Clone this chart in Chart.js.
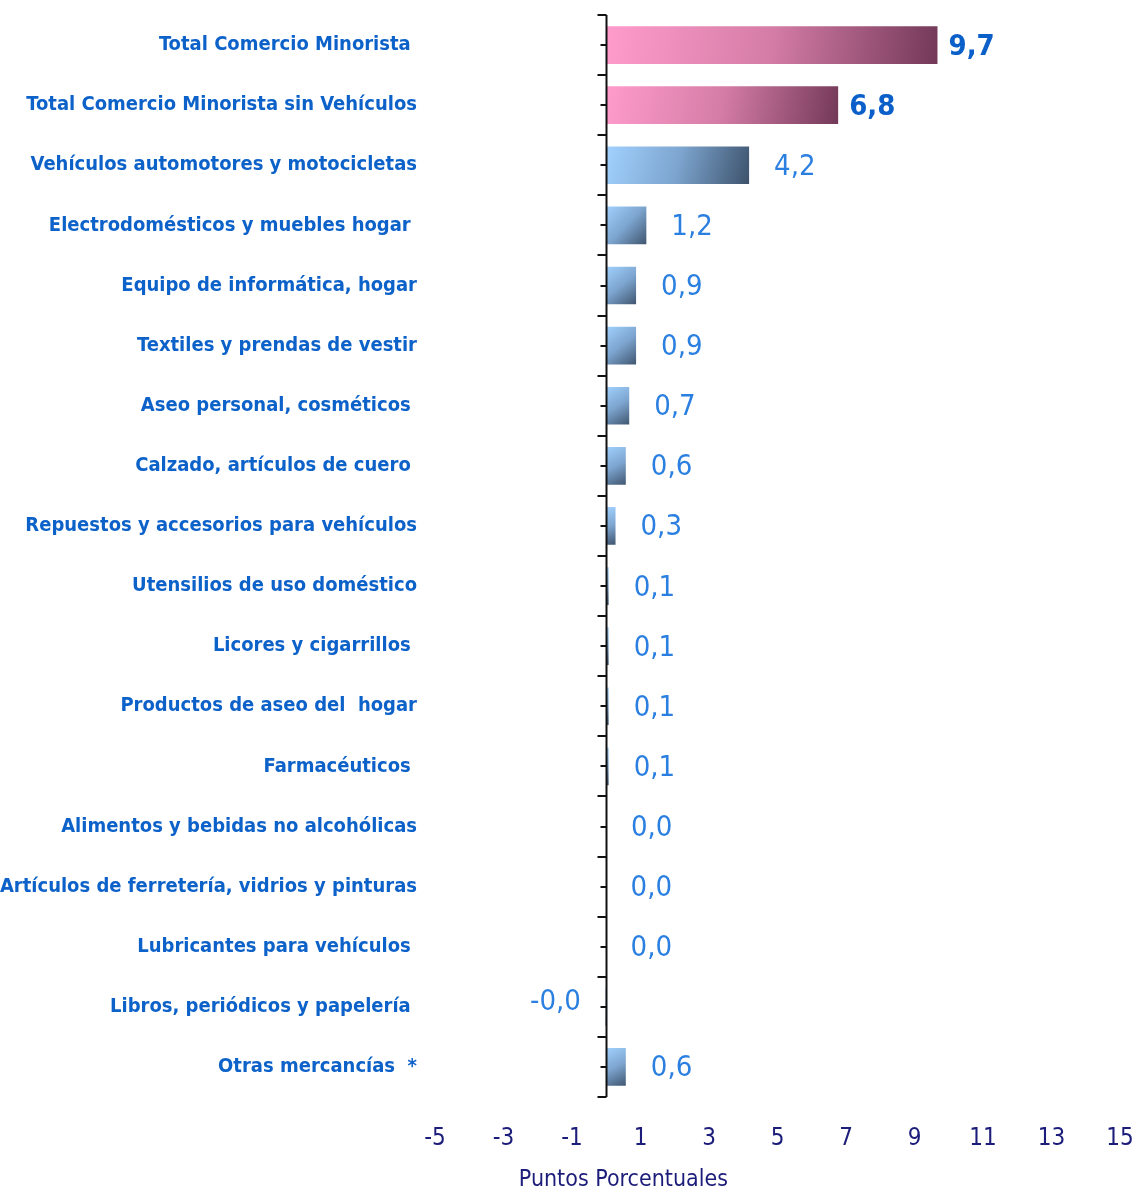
<!DOCTYPE html>
<html>
<head>
<meta charset="utf-8">
<script src="https://cdn.jsdelivr.net/npm/chart.js@4.4.1/dist/chart.umd.min.js"></script>
<style>
  html, body { margin: 0; padding: 0; background: #fff; }
  #wrap { width: 1139px; height: 1192px; }
</style>
</head>
<body>
<div id="wrap"><canvas id="chart"></canvas></div>
<script>
const categories = [
  'Total Comercio Minorista ',
  'Total Comercio Minorista sin Vehículos',
  'Vehículos automotores y motocicletas',
  'Electrodomésticos y muebles hogar ',
  'Equipo de informática, hogar',
  'Textiles y prendas de vestir',
  'Aseo personal, cosméticos ',
  'Calzado, artículos de cuero ',
  'Repuestos y accesorios para vehículos',
  'Utensilios de uso doméstico',
  'Licores y cigarrillos ',
  'Productos de aseo del  hogar',
  'Farmacéuticos ',
  'Alimentos y bebidas no alcohólicas',
  'Artículos de ferretería, vidrios y pinturas',
  'Lubricantes para vehículos ',
  'Libros, periódicos y papelería ',
  'Otras mercancías  *',
];
const values = [9.7, 6.8, 4.2, 1.2, 0.9, 0.9, 0.7, 0.6, 0.3, 0.1, 0.1, 0.1, 0.1, 0.02, 0.01, 0.01, -0.04, 0.6];
const totalRows = [0, 1];
const xTicksMin = -5;
const xTicksMax = 15;
const xTickStep = 2;
const axisTitle = 'Puntos Porcentuales';

const FONT = "'Liberation Sans Narrow', 'DejaVu Sans Condensed', 'Arial Narrow', sans-serif";
const BAR_PCT = 0.66;
const fmtVal = (v) => v.toFixed(1).replace('.', ',');

// diagonal light->dark gradient, one per bar
function barFill(c) {
  const { chart, dataIndex } = c;
  const x = chart.scales.x;
  const y = chart.scales.y;
  if (!chart.chartArea || !x || !y) return '#7aa4cf';
  const v = values[dataIndex];
  const x0 = x.getPixelForValue(0);
  const x1 = x.getPixelForValue(v);
  const yc = y.getPixelForValue(dataIndex);
  const half = (y.getPixelForValue(1) - y.getPixelForValue(0)) * BAR_PCT / 2;
  const g = chart.ctx.createLinearGradient(Math.min(x0, x1), yc - half, Math.max(x0, x1, Math.min(x0, x1) + 2), yc + half);
  if (totalRows.includes(dataIndex)) {
    g.addColorStop(0, '#ff9ccc');
    g.addColorStop(0.5, '#d47ca6');
    g.addColorStop(1, '#723857');
  } else {
    g.addColorStop(0, '#a2d2ff');
    g.addColorStop(0.5, '#7ca4ce');
    g.addColorStop(1, '#3c516a');
  }
  return g;
}

// vertical axis at zero with tick marks, value labels and axis title
const zeroAxis = {
  id: 'zeroAxis',
  afterDatasetsDraw(chart) {
    const ctx = chart.ctx;
    const x = chart.scales.x;
    const y = chart.scales.y;
    const x0 = Math.round(x.getPixelForValue(0)) + 0.5;
    const half = (y.getPixelForValue(1) - y.getPixelForValue(0)) / 2;
    ctx.save();
    ctx.strokeStyle = '#111';
    ctx.lineWidth = 2;
    ctx.beginPath();
    ctx.moveTo(x0, y.top);
    ctx.lineTo(x0, y.bottom);
    ctx.stroke();
    for (let i = 0; i <= categories.length; i++) {
      const yy = Math.round(y.getPixelForValue(i) - half);
      ctx.beginPath();
      ctx.moveTo(x0 - 9, yy);
      ctx.lineTo(x0, yy);
      ctx.stroke();
      if (i < categories.length) {
        const yc = Math.round(y.getPixelForValue(i));
        ctx.beginPath();
        ctx.moveTo(x0 - 6, yc);
        ctx.lineTo(x0, yc);
        ctx.stroke();
      }
    }

    chart.getDatasetMeta(0).data.forEach((el, i) => {
      const v = values[i];
      const bold = totalRows.includes(i);
      ctx.font = `${bold ? 'bold ' : ''}29px ${FONT}`;
      ctx.fillStyle = bold ? '#0a5fc8' : '#2a7fe0';
      ctx.textBaseline = 'middle';
      if (v < 0) {
        ctx.textAlign = 'right';
        ctx.fillText(fmtVal(v), el.x - 24, el.y - 4);
      } else {
        ctx.textAlign = 'left';
        ctx.fillText(fmtVal(v), Math.max(el.x, x0) + (bold ? 10 : 24), el.y + 2);
      }
    });

    ctx.font = `23px ${FONT}`;
    ctx.fillStyle = '#1c1c7a';
    ctx.textAlign = 'center';
    ctx.textBaseline = 'middle';
    ctx.fillText(axisTitle, x.getPixelForValue(0.5), 1180);
    ctx.restore();
  },
};

new Chart(document.getElementById('chart'), {
  type: 'bar',
  data: {
    labels: categories,
    datasets: [{
      data: values,
      backgroundColor: barFill,
      borderColor: 'rgba(255,255,255,0.45)',
      borderWidth: 1,
      categoryPercentage: BAR_PCT,
      barPercentage: 1,
    }],
  },
  options: {
    indexAxis: 'y',
    responsive: true,
    maintainAspectRatio: false,
    animation: false,
    layout: { padding: { top: 15, right: 19, left: 0, bottom: 0 } },
    plugins: { legend: { display: false }, tooltip: { enabled: false } },
    scales: {
      x: {
        min: xTicksMin,
        max: xTicksMax,
        ticks: { stepSize: xTickStep, color: '#1c1c7a', font: { family: FONT, size: 24 }, padding: 0 },
        grid: { display: true, drawOnChartArea: false, drawTicks: true, tickLength: 27, color: 'transparent' },
        border: { display: false },
        afterFit: (s) => { s.height = 95; },
      },
      y: {
        ticks: { color: '#0d62c9', font: { family: FONT, size: 20, weight: 'bold' }, padding: 0, autoSkip: false },
        grid: { display: true, drawOnChartArea: false, drawTicks: true, tickLength: 18, color: 'transparent' },
        border: { display: false },
        afterFit: (s) => { s.width = 435; },
      },
    },
  },
  plugins: [zeroAxis],
});
</script>
</body>
</html>
